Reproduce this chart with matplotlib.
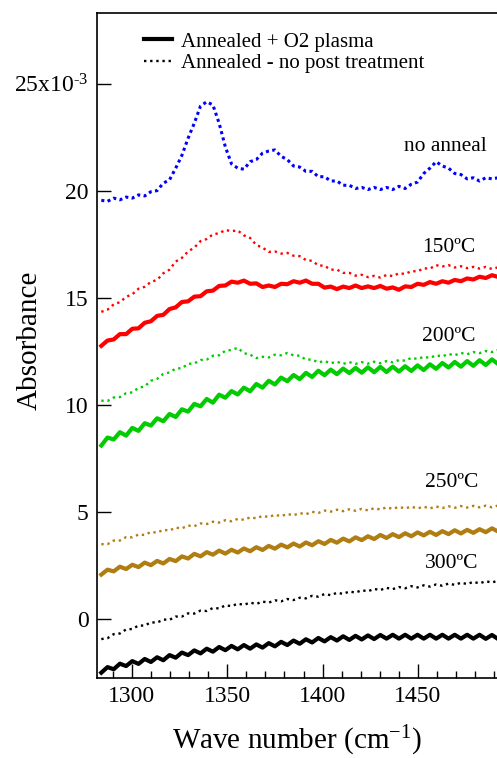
import matplotlib
matplotlib.use("Agg")
import matplotlib.pyplot as plt
from matplotlib.lines import Line2D
import numpy as np

plt.rcParams["font.family"] = ["Liberation Serif", "DejaVu Serif"]
plt.rcParams["mathtext.fontset"] = "custom"
plt.rcParams["mathtext.rm"] = "Liberation Serif"
plt.rcParams["mathtext.it"] = "Liberation Serif:italic"

# ── Data (absorbance in units of 1e-3), sampled every 3.25 cm-1 from 1284 ──
wavenumber = np.arange(65) * 3.25 + 1284.0

no_anneal = [
    19.55, 19.50, 19.65, 19.57, 19.70, 19.65, 19.80, 19.75, 19.95, 20.00,
    20.35, 20.50, 21.05, 21.65, 22.45, 23.15, 23.95, 24.15, 24.00, 23.15,
    22.05, 21.25, 21.05, 21.00, 21.35, 21.45, 21.75, 21.85, 21.90, 21.60,
    21.45, 21.15, 21.10, 20.90, 20.90, 20.65, 20.65, 20.45, 20.45, 20.25,
    20.25, 20.10, 20.15, 20.05, 20.15, 20.05, 20.15, 20.05, 20.20, 20.10,
    20.30, 20.40, 20.80, 21.05, 21.35, 21.15, 21.05, 20.80, 20.75, 20.55,
    20.60, 20.45, 20.60, 20.55, 20.60,
]
a150_plain = [
    14.34, 14.44, 14.69, 14.79, 15.04, 15.16, 15.42, 15.51, 15.74, 15.83,
    16.14, 16.31, 16.69, 16.86, 17.16, 17.34, 17.64, 17.74, 17.96, 18.01,
    18.16, 18.11, 18.14, 17.91, 17.79, 17.46, 17.34, 17.14, 17.16, 17.06,
    17.09, 16.96, 16.94, 16.76, 16.72, 16.51, 16.49, 16.31, 16.31, 16.16,
    16.16, 16.03, 16.07, 15.96, 16.02, 15.94, 16.06, 16.01, 16.14, 16.11,
    16.24, 16.23, 16.37, 16.36, 16.52, 16.46, 16.52, 16.41, 16.47, 16.38,
    16.44, 16.36, 16.44, 16.34, 16.42,
]
a150_o2 = [
    12.75, 13.00, 13.05, 13.30, 13.30, 13.55, 13.57, 13.83, 13.90, 14.15,
    14.20, 14.47, 14.55, 14.80, 14.83, 15.05, 15.07, 15.30, 15.33, 15.55,
    15.57, 15.75, 15.70, 15.80, 15.65, 15.67, 15.50, 15.57, 15.50, 15.65,
    15.63, 15.77, 15.70, 15.80, 15.65, 15.65, 15.47, 15.52, 15.40, 15.52,
    15.45, 15.57, 15.45, 15.53, 15.45, 15.55, 15.42, 15.48, 15.37, 15.53,
    15.50, 15.65, 15.60, 15.73, 15.65, 15.77, 15.70, 15.83, 15.77, 15.90,
    15.85, 15.98, 15.92, 16.05, 15.97,
]
a200_plain = [
    10.19, 10.18, 10.34, 10.36, 10.54, 10.58, 10.79, 10.86, 11.12, 11.21,
    11.44, 11.51, 11.69, 11.71, 11.91, 11.93, 12.09, 12.11, 12.29, 12.31,
    12.52, 12.56, 12.66, 12.41, 12.34, 12.18, 12.24, 12.21, 12.34, 12.31,
    12.42, 12.31, 12.29, 12.11, 12.11, 11.98, 12.04, 11.94, 12.01, 11.91,
    11.99, 11.91, 11.99, 11.92, 12.01, 11.94, 12.04, 11.98, 12.09, 12.06,
    12.19, 12.14, 12.24, 12.19, 12.31, 12.26, 12.37, 12.31, 12.42, 12.36,
    12.46, 12.41, 12.51, 12.46, 12.56,
]
a200_o2 = [
    8.10, 8.47, 8.38, 8.72, 8.56, 8.92, 8.78, 9.14, 9.03, 9.37,
    9.23, 9.57, 9.43, 9.79, 9.68, 10.04, 9.93, 10.27, 10.10, 10.47,
    10.33, 10.64, 10.48, 10.80, 10.63, 10.97, 10.80, 11.12, 10.95, 11.27,
    11.10, 11.39, 11.20, 11.49, 11.30, 11.59, 11.38, 11.64, 11.43, 11.69,
    11.48, 11.72, 11.50, 11.75, 11.52, 11.77, 11.53, 11.78, 11.55, 11.80,
    11.58, 11.84, 11.62, 11.89, 11.68, 11.95, 11.74, 12.00, 11.78, 12.04,
    11.82, 12.08, 11.86, 12.12, 11.90,
]
a250_plain = [
    3.49, 3.49, 3.66, 3.66, 3.82, 3.81, 3.94, 3.92, 4.06, 4.03,
    4.16, 4.13, 4.26, 4.23, 4.36, 4.33, 4.46, 4.43, 4.54, 4.50,
    4.61, 4.56, 4.67, 4.63, 4.74, 4.70, 4.81, 4.76, 4.86, 4.80,
    4.90, 4.84, 4.94, 4.89, 5.00, 4.95, 5.06, 5.01, 5.10, 5.03,
    5.12, 5.05, 5.14, 5.07, 5.17, 5.11, 5.21, 5.14, 5.23, 5.16,
    5.24, 5.16, 5.24, 5.16, 5.25, 5.18, 5.26, 5.19, 5.27, 5.20,
    5.28, 5.21, 5.29, 5.21, 5.30,
]
a250_o2 = [
    2.07, 2.30, 2.22, 2.44, 2.33, 2.53, 2.42, 2.63, 2.51, 2.71,
    2.59, 2.80, 2.70, 2.92, 2.82, 3.04, 2.92, 3.12, 3.00, 3.19,
    3.05, 3.23, 3.10, 3.29, 3.16, 3.35, 3.22, 3.41, 3.28, 3.47,
    3.34, 3.52, 3.38, 3.57, 3.44, 3.63, 3.50, 3.69, 3.56, 3.75,
    3.62, 3.81, 3.68, 3.86, 3.73, 3.92, 3.78, 3.96, 3.82, 4.00,
    3.86, 4.04, 3.90, 4.07, 3.92, 4.10, 3.96, 4.14, 3.99, 4.16,
    4.02, 4.19, 4.05, 4.23, 4.08,
]
a300_plain = [
    -0.94, -0.90, -0.71, -0.68, -0.49, -0.47, -0.31, -0.31, -0.16, -0.17,
    -0.03, -0.04, 0.11, 0.11, 0.26, 0.25, 0.39, 0.37, 0.51, 0.49,
    0.63, 0.60, 0.71, 0.66, 0.76, 0.70, 0.81, 0.76, 0.87, 0.82,
    0.93, 0.88, 0.99, 0.96, 1.08, 1.04, 1.16, 1.11, 1.22, 1.17,
    1.28, 1.23, 1.34, 1.29, 1.40, 1.35, 1.45, 1.39, 1.49, 1.43,
    1.53, 1.47, 1.57, 1.51, 1.61, 1.55, 1.65, 1.59, 1.69, 1.63,
    1.73, 1.66, 1.76, 1.70, 1.79,
]
a300_o2 = [
    -2.51, -2.25, -2.35, -2.09, -2.20, -1.97, -2.10, -1.87, -2.01, -1.79,
    -1.93, -1.69, -1.81, -1.57, -1.69, -1.47, -1.61, -1.39, -1.53, -1.31,
    -1.46, -1.26, -1.42, -1.22, -1.39, -1.19, -1.34, -1.13, -1.28, -1.07,
    -1.22, -1.01, -1.16, -0.95, -1.10, -0.89, -1.05, -0.85, -1.01, -0.81,
    -0.98, -0.79, -0.96, -0.77, -0.94, -0.75, -0.92, -0.74, -0.92, -0.74,
    -0.92, -0.74, -0.92, -0.74, -0.92, -0.74, -0.92, -0.74, -0.92, -0.74,
    -0.92, -0.74, -0.93, -0.75, -0.94,
]

y_ticks = [0, 5, 10, 15, 20, 25]
y_tick_labels = ["0", "5", "10", "15", "20", "25x10$^{\\mathrm{\u2010}3}$"]
x_ticks = [1300, 1350, 1400, 1450]

# curve labels: (text, wavenumber, absorbance)
curve_labels = [
    ("no anneal", 1464.5, 22.05),
    ("150ºC", 1466, 17.35),
    ("200ºC", 1466, 13.2),
    ("250ºC", 1467.5, 6.35),
    ("300ºC", 1467.5, 2.57),
]

BLUE = "#0000ff"
RED = "#ff0000"
GREEN = "#00cc00"
BROWN = "#b07d12"
BLACK = "#000000"
DOT = (0, (1, 1.6))

fig = plt.figure(figsize=(4.97, 7.58), dpi=100)
ax = fig.add_axes([0.195, 0.1055, 0.805, 0.8775])

ax.plot(wavenumber, no_anneal, color=BLUE, lw=2.2, ls=(0, (1, 1.1)))
ax.plot(wavenumber, a150_plain, color=RED, lw=1.7, ls=DOT)
ax.plot(wavenumber, a150_o2, color=RED, lw=3.0)
ax.plot(wavenumber, a200_plain, color=GREEN, lw=1.7, ls=DOT)
ax.plot(wavenumber, a200_o2, color=GREEN, lw=3.0)
ax.plot(wavenumber, a250_plain, color=BROWN, lw=1.7, ls=DOT)
ax.plot(wavenumber, a250_o2, color=BROWN, lw=3.0)
ax.plot(wavenumber, a300_plain, color=BLACK, lw=1.7, ls=DOT)
ax.plot(wavenumber, a300_o2, color=BLACK, lw=3.0)

for text, wx, wy in curve_labels:
    ax.text(wx, wy, text, fontsize=15.5, ha="center", va="center")

ax.set_xlim(1281.7, 1491.4)
ax.set_ylim(-2.76, 28.3)
ax.set_xticks(x_ticks)
ax.set_xticks(np.arange(1290, 1491, 10), minor=True)
ax.set_yticks(y_ticks)
ax.set_yticklabels(y_tick_labels)
ax.tick_params(axis="both", which="major", direction="in", length=10,
               width=1, labelsize=17, pad=6)
ax.tick_params(axis="x", which="minor", direction="in", length=5, width=1)
ax.spines["right"].set_visible(False)
for s in ("left", "top", "bottom"):
    ax.spines[s].set_linewidth(1.2)

ax.set_xlabel("Wave number (cm$^{-1}$)", fontsize=21, labelpad=12)
fig.text(30 / 497, 1 - 340 / 758, "Absorbance", fontsize=21,
         rotation=90, ha="center", va="center")

handles = [
    Line2D([], [], color=BLACK, lw=3.0),
    Line2D([], [], color=BLACK, lw=1.7, ls=DOT),
]
ax.legend(handles, ["Annealed + O2 plasma", "Annealed - no post treatment"],
          loc="upper left", bbox_to_anchor=(0.08, 0.993), frameon=False,
          fontsize=15, handlelength=1.35, handletextpad=0.45,
          labelspacing=0.1, borderaxespad=0.3)

fig.savefig("out.png", dpi=100)
